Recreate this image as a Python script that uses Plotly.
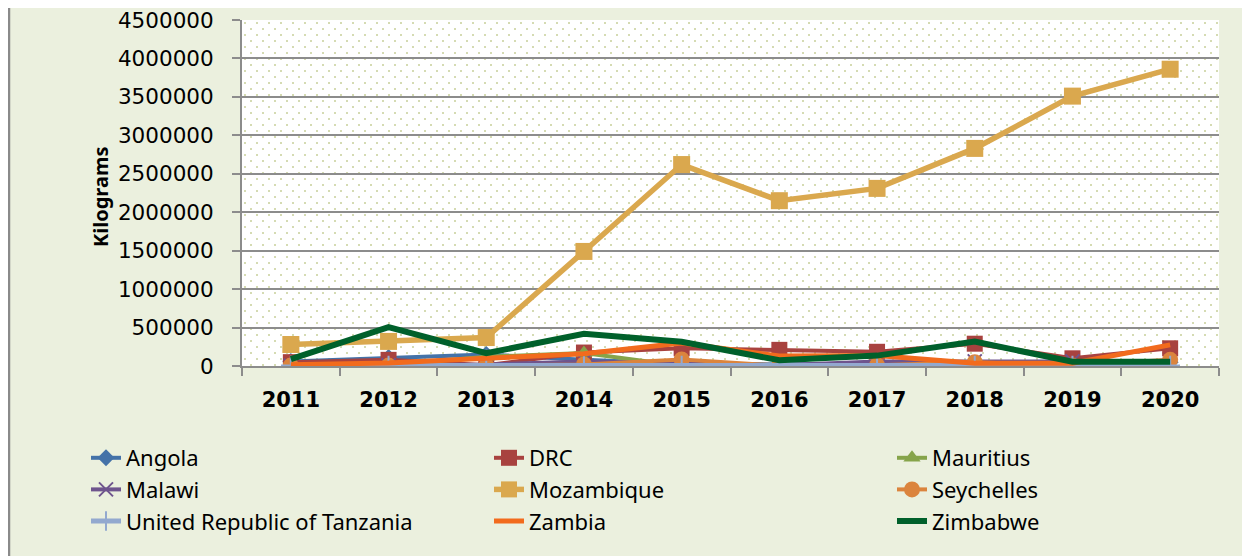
import base64
import plotly.graph_objects as go

years = ["2011", "2012", "2013", "2014", "2015", "2016", "2017", "2018", "2019", "2020"]

angola = [60000, 110000, 150000, 80000, 30000, 20000, 30000, 20000, 20000, 50000]
drc = [50000, 80000, 10000, 175000, 230000, 210000, 185000, 290000, 100000, 230000]
mauritius = [0, 10000, 120000, 170000, 0, 0, 0, 0, 0, 0]
malawi = [5000, 10000, 20000, 60000, 30000, 10000, 60000, 60000, 60000, 10000]
mozambique = [280000, 320000, 370000, 1490000, 2620000, 2150000, 2310000, 2830000, 3510000, 3860000]
seychelles = [5000, 5000, 5000, 20000, 85000, 5000, 10000, 50000, 5000, 80000]
tanzania = [5000, 5000, 5000, 5000, 5000, 5000, 5000, 5000, 5000, 5000]
zambia = [15000, 40000, 100000, 160000, 300000, 130000, 135000, 35000, 35000, 275000]
zimbabwe = [90000, 505000, 166000, 418000, 315000, 75000, 135000, 317000, 56000, 56000]

series = [
    ("Angola", angola, "#4472A8", "diamond", 13, 4),
    ("DRC", drc, "#A8423F", "square", 16, 4),
    ("Mauritius", mauritius, "#86A44A", "triangle-up", 15, 4),
    ("Malawi", malawi, "#6E548D", "x-thin", 14, 4),
    ("Mozambique", mozambique, "#DAA84E", "square", 17, 5.5),
    ("Seychelles", seychelles, "#DB843D", "circle", 16, 4),
    ("United Republic of Tanzania", tanzania, "#93A9CF", "cross-thin", 14, 5),
    ("Zambia", zambia, "#F26B1D", None, 0, 5),
    ("Zimbabwe", zimbabwe, "#00602B", None, 0, 6),
]

fig = go.Figure()
for name, vals, color, sym, size, lw in series:
    if sym is None:
        fig.add_trace(go.Scatter(x=years, y=vals, name=name, mode="lines",
                                 line=dict(color=color, width=lw)))
    else:
        mk = dict(symbol=sym, size=size, color=color)
        if sym.endswith("-thin"):
            mk["line"] = dict(color=color, width=2)
        fig.add_trace(go.Scatter(x=years, y=vals, name=name, mode="lines+markers",
                                 line=dict(color=color, width=lw), marker=mk))

# plot area in figure pixels (page is offset by the 8px body margin)
L, T, PW, PH = 234, 12, 977, 346
W, H = 1250, 556

# dotted plot-area background
svg = ('<svg xmlns="http://www.w3.org/2000/svg" width="977" height="346">'
       '<defs><pattern id="p" width="12" height="12" patternUnits="userSpaceOnUse">'
       '<rect x="2" y="2" width="2" height="2" fill="#D5DBB3"/>'
       '<rect x="8" y="8" width="2" height="2" fill="#D5DBB3"/>'
       '</pattern></defs><rect width="977" height="346" fill="#FFFFFF"/>'
       '<rect width="977" height="346" fill="url(#p)"/></svg>')
src = "data:image/svg+xml;base64," + base64.b64encode(svg.encode()).decode()
fig.add_layout_image(dict(source=src, xref="paper", yref="paper", x=0, y=1,
                          sizex=1, sizey=1, sizing="stretch", layer="below",
                          xanchor="left", yanchor="top"))

def px(xp):
    return (xp - L) / PW

def py(yp):
    return (T + PH - yp) / PH

fig.add_shape(type="line", xref="paper", yref="paper", x0=px(1), x1=px(1),
              y0=-0.7, y1=1.2, line=dict(color="#8A8A8A", width=2.5))

fig.add_annotation(text="<b>Kilograms</b>", xref="paper", yref="paper",
                   x=px(92), y=py(189), xanchor="center", yanchor="middle",
                   textangle=-90, showarrow=False,
                   font=dict(family="Noto Sans", size=20, color="#000000"))

fig.update_layout(
    width=W, height=H,
    margin=dict(l=L, r=W - L - PW, t=T, b=H - T - PH, autoexpand=False),
    paper_bgcolor="#EBF0DE",
    plot_bgcolor="rgba(0,0,0,0)",
    showlegend=True,
    legend=dict(orientation="h", x=px(78), y=py(429),
                xanchor="left", yanchor="top", entrywidth=358, entrywidthmode="pixels",
                font=dict(family="Noto Sans", size=22, color="#000000"),
                bgcolor="rgba(0,0,0,0)", traceorder="normal"),
    xaxis=dict(type="category", range=[-0.5, 9.5], showgrid=False, automargin=False,
               tickson="boundaries", ticks="outside", ticklen=8, tickcolor="#8C8C8C",
               tickwidth=2, showline=True, linecolor="#8C8C8C", linewidth=2,
               tickfont=dict(family="DejaVu Sans", size=21, color="#000000", weight="bold"),
               ticklabelstandoff=14, ticklabeloverflow="allow", fixedrange=True),
    yaxis=dict(range=[0, 4500000], dtick=500000, tick0=0, showgrid=True, automargin=False,
               gridcolor="#8C8C8C", gridwidth=2, zeroline=False,
               ticks="outside", ticklen=8, tickcolor="#8C8C8C", tickwidth=2,
               showline=True, linecolor="#8C8C8C", linewidth=2,
               tickformat="d", separatethousands=False,
               tickfont=dict(family="DejaVu Sans", size=21.5, color="#000000"),
               ticklabelstandoff=14, ticklabeloverflow="allow", fixedrange=True),
)

fig.write_html("out.html")
